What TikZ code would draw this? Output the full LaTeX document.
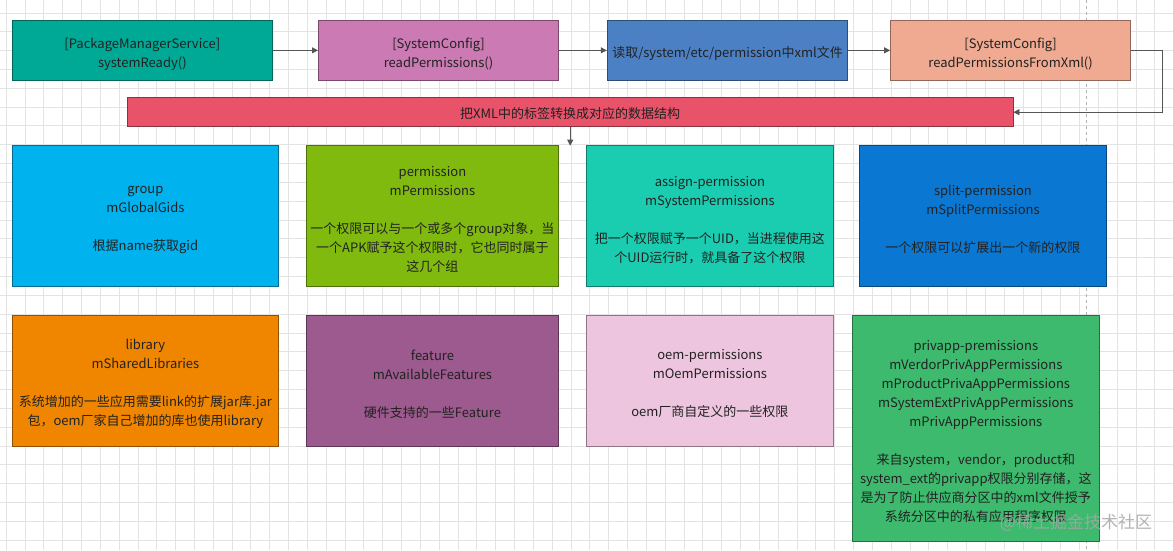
\documentclass[tikz,border=0pt]{standalone}
\usepackage{fontspec}
\setmainfont{Noto Sans CJK SC}
\usetikzlibrary{arrows.meta}
\definecolor{cPms}{HTML}{00A896}
\definecolor{cRp}{HTML}{CC7AB4}
\definecolor{cXml}{HTML}{4C80C4}
\definecolor{cRpx}{HTML}{F0AA92}
\definecolor{cBar}{HTML}{E8536A}
\definecolor{cGroup}{HTML}{00B2EE}
\definecolor{cPerm}{HTML}{80BA0F}
\definecolor{cAssign}{HTML}{1ACDB0}
\definecolor{cSplit}{HTML}{0A78D2}
\definecolor{cLib}{HTML}{F08600}
\definecolor{cFeat}{HTML}{9C5A8E}
\definecolor{cOem}{HTML}{EDC5DE}
\definecolor{cPriv}{HTML}{3DBA6E}
\definecolor{cTxt}{HTML}{222222}
\definecolor{cGrid}{HTML}{E3E3E3}
\definecolor{cLine}{HTML}{555555}
\tikzset{
  box/.style={fill=#1, draw=#1!60!black, line width=0.8pt, inner sep=0pt},
  boxtext/.style={text=cTxt, align=center, inner sep=0pt, font=\fontsize{13}{19}\selectfont},
  conn/.style={draw=cLine, line width=0.8pt, -{Triangle[length=6pt,width=6pt]}},
  gridline/.style={draw=cGrid, line width=0.6pt},
}
\newcommand\boxlabel[2]{\node[boxtext] (#1T) at ([yshift=-3.5pt]#1.center) {#2};}
\begin{document}
\begin{tikzpicture}[x=1pt, y=-1pt]
\useasboundingbox (0,0) rectangle (1173,550);
\fill[white] (0,0) rectangle (1173,550);
\foreach \i in {0,...,61} {\draw[gridline] ({6+\i*18.83},0) -- ++(0,550);}
\foreach \i in {0,...,28} {\draw[gridline] (0,{12.8+\i*18.83}) -- ++(1173,0);}
\draw[draw=black!30, line width=0.6pt, dash pattern=on 3pt off 3pt] (1086,0) -- (1086,550);

% top row
\node[box=cPms, minimum width=260.3pt, minimum height=59.3pt] (pms) at (142.35,50.35) {};
\boxlabel{pms}{[PackageManagerService]\\systemReady()}
\node[box=cRp, minimum width=240.3pt, minimum height=59.3pt] (rp) at (438.55,50.35) {};
\boxlabel{rp}{[SystemConfig]\\readPermissions()}
\node[box=cXml, minimum width=240.6pt, minimum height=59.3pt] (xml) at (727.5,50.35) {};
\boxlabel{xml}{读取/system/etc/permission中xml文件}
\node[box=cRpx, minimum width=240.2pt, minimum height=59.3pt] (rpx) at (1010.6,50.35) {};
\boxlabel{rpx}{[SystemConfig]\\readPermissionsFromXml()}

% bar
\node[box=cBar, minimum width=885.6pt, minimum height=29pt] (bar) at (570.2,112.2) {};
\node[boxtext] (barT) at ([yshift=-1pt]bar.center) {把XML中的标签转换成对应的数据结构};

% row 2
\node[box=cGroup, minimum width=266.4pt, minimum height=141pt] (group) at (145.4,216.2) {};
\boxlabel{group}{group\\mGlobalGids\\[19pt]根据name获取gid}
\node[box=cPerm, minimum width=252.5pt, minimum height=141pt] (perm) at (432.45,216.2) {};
\boxlabel{perm}{permission\\mPermissions\\[19pt]一个权限可以与一个或多个group对象，当\\一个APK赋予这个权限时，它也同时属于\\这几个组}
\node[box=cAssign, minimum width=247pt, minimum height=141pt] (assign) at (709.9,216.2) {};
\boxlabel{assign}{assign-permission\\mSystemPermissions\\[19pt]把一个权限赋予一个UID，当进程使用这\\个UID运行时，就具备了这个权限}
\node[box=cSplit, minimum width=247.7pt, minimum height=141pt] (split) at (982.95,216.2) {};
\boxlabel{split}{split-permission\\mSplitPermissions\\[19pt]一个权限可以扩展出一个新的权限}

% row 3
\node[box=cLib, minimum width=266.4pt, minimum height=131pt] (lib) at (145.4,380.5) {};
\boxlabel{lib}{library\\mSharedLibraries\\[19pt]系统增加的一些应用需要link的扩展jar库.jar\\包，oem厂家自己增加的库也使用library}
\node[box=cFeat, minimum width=252.5pt, minimum height=131pt] (feat) at (432.45,380.5) {};
\boxlabel{feat}{feature\\mAvailableFeatures\\[19pt]硬件支持的一些Feature}
\node[box=cOem, minimum width=247pt, minimum height=131pt] (oem) at (709.9,380.5) {};
\boxlabel{oem}{oem-permissions\\mOemPermissions\\[19pt]oem厂商自定义的一些权限}
\node[box=cPriv, minimum width=247pt, minimum height=226pt] (priv) at (975.8,428) {};
\boxlabel{priv}{privapp-premissions\\mVerdorPrivAppPermissions\\mProductPrivaAppPermissions\\mSystemExtPrivAppPermissions\\mPrivAppPermissions\\[19pt]来自system，vendor，product和\\system\_ext的privapp权限分别存储，这\\是为了防止供应商分区中的xml文件授予\\系统分区中的私有应用程序权限}

% connectors
\coordinate (rowtop) at (570.2,145.7);
\draw[conn] (pms.east) -- (rp.west);
\draw[conn] (rp.east) -- (xml.west);
\draw[conn] (xml.east) -- (rpx.west);
\draw[conn] (rpx.east) -- ++(31.5,0) |- (bar.east);
\draw[conn] (bar.south) -- (rowtop);

% watermark
\node[text=black!35, text opacity=0.85, font=\fontsize{17}{17}\selectfont, inner sep=0pt] (wm) at (1076,522.5) {@稀土掘金技术社区};
\end{tikzpicture}
\end{document}
